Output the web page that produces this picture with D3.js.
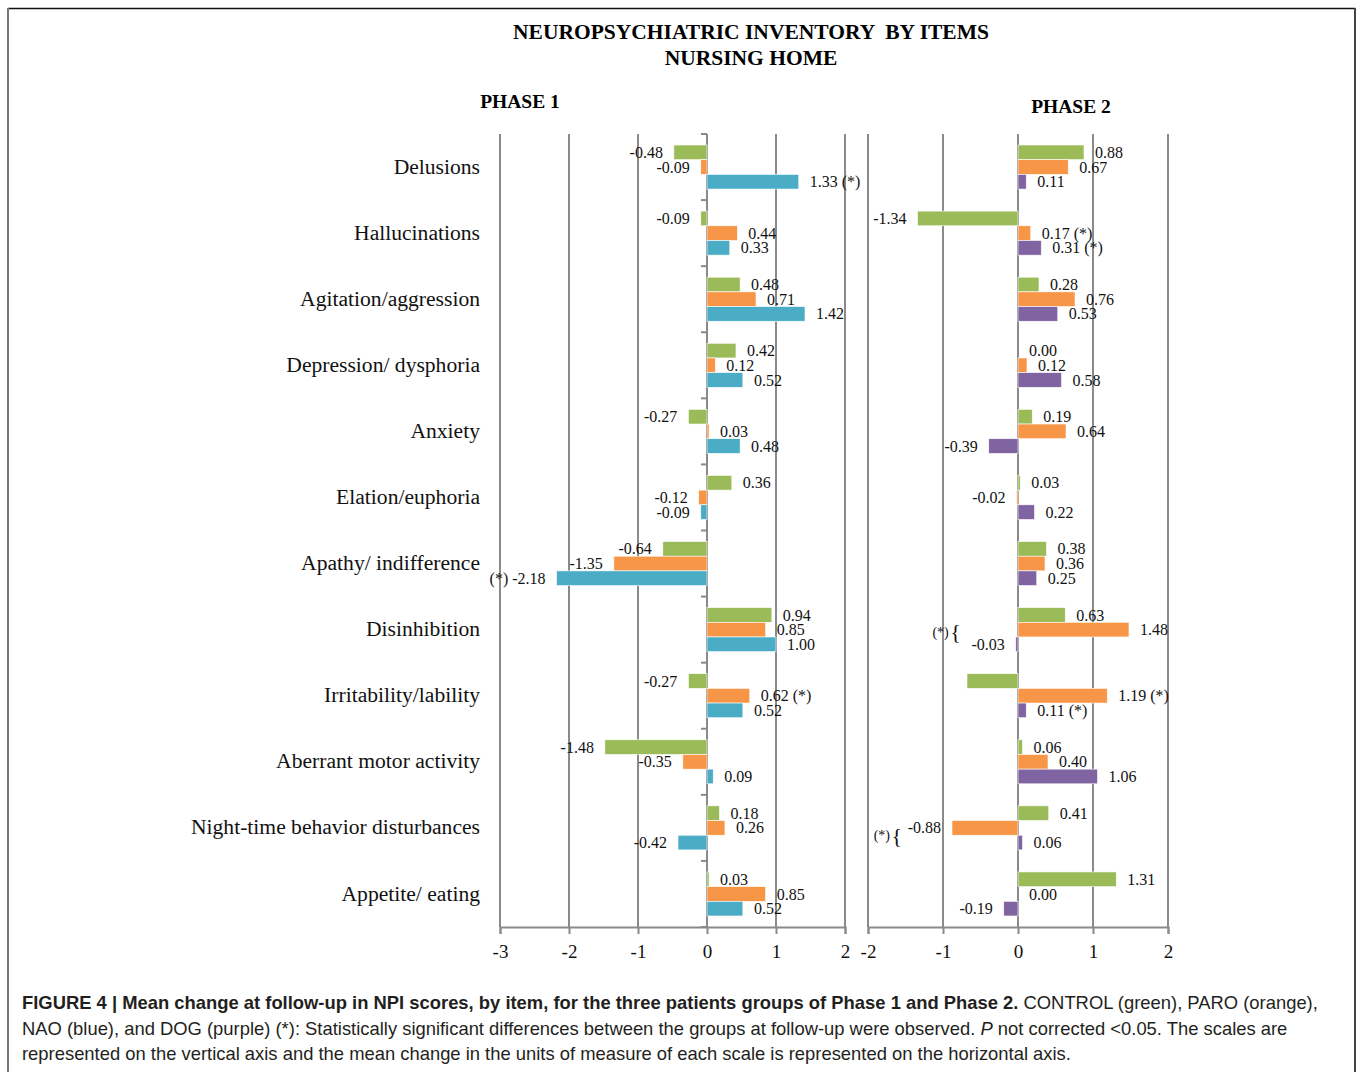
<!DOCTYPE html>
<html>
<head>
<meta charset="utf-8">
<script src="https://cdn.jsdelivr.net/npm/d3@7"></script>
<style>
  html, body { margin: 0; padding: 0; background: #fff; }
  svg { display: block; }
</style>
</head>
<body>
<svg id="chart" width="1358" height="1072"></svg>
<script>
// ---------- DATA ----------
const categories = [
  "Delusions", "Hallucinations", "Agitation/aggression", "Depression/ dysphoria",
  "Anxiety", "Elation/euphoria", "Apathy/ indifference", "Disinhibition",
  "Irritability/lability", "Aberrant motor activity", "Night-time behavior disturbances",
  "Appetite/ eating"
];
// Phase 1: CONTROL (green), PARO (orange), NAO (blue)
const p1Control = [-0.48, -0.09, 0.48, 0.42, -0.27, 0.36, -0.64, 0.94, -0.27, -1.48, 0.18, 0.03];
const p1Paro    = [-0.09, 0.44, 0.71, 0.12, 0.03, -0.12, -1.35, 0.85, 0.62, -0.35, 0.26, 0.85];
const p1Nao     = [1.33, 0.33, 1.42, 0.52, 0.48, -0.09, -2.18, 1.00, 0.52, 0.09, -0.42, 0.52];
// Phase 2: CONTROL (green), PARO (orange), DOG (purple)
const p2Control = [0.88, -1.34, 0.28, 0.00, 0.19, 0.03, 0.38, 0.63, -0.68, 0.06, 0.41, 1.31];
const p2Paro    = [0.67, 0.17, 0.76, 0.12, 0.64, -0.02, 0.36, 1.48, 1.19, 0.40, -0.88, 0.00];
const p2Dog     = [0.11, 0.31, 0.53, 0.58, -0.39, 0.22, 0.25, -0.03, 0.11, 1.06, 0.06, -0.19];
// significance notes: "post" -> "value (*)", "pre" -> "(*) value", "none" -> no label
const p1ControlNote = ["", "", "", "", "", "", "", "", "", "", "", ""];
const p1ParoNote    = ["", "", "", "", "", "", "", "", "post", "", "", ""];
const p1NaoNote     = ["post", "", "", "", "", "", "pre", "", "", "", "", ""];
const p2ControlNote = ["", "", "", "", "", "", "", "", "none", "", "", ""];
const p2ParoNote    = ["", "post", "", "", "", "", "", "", "post", "", "", ""];
const p2DogNote     = ["", "post", "", "", "", "", "", "", "post", "", "", ""];
// bracket annotations in phase 2
const p2Brackets = ["Disinhibition", "Night-time behavior disturbances"];
const p1Ticks = [-3, -2, -1, 0, 1, 2];
const p2Ticks = [-2, -1, 0, 1, 2];
const seriesColors = { control: "#9BBB59", paro: "#F79646", nao: "#4BACC6", dog: "#8064A2" };

// ---------- DRAW ----------
const svg = d3.select("#chart");
const serif = "'Liberation Serif', 'Times New Roman', serif";
const sans = "'Liberation Sans', Arial, sans-serif";

// frame
svg.append("line").attr("x1", 8).attr("x2", 1355.5).attr("y1", 8.5).attr("y2", 8.5)
  .attr("stroke", "#111").attr("stroke-width", 1.5);
svg.append("line").attr("x1", 8).attr("x2", 8).attr("y1", 8).attr("y2", 1072)
  .attr("stroke", "#777").attr("stroke-width", 2);
svg.append("line").attr("x1", 1355).attr("x2", 1355).attr("y1", 8).attr("y2", 1072)
  .attr("stroke", "#444").attr("stroke-width", 2);

// titles
svg.append("text").attr("x", 751).attr("y", 39).attr("text-anchor", "middle")
  .attr("font-family", serif).attr("font-weight", "bold").attr("font-size", 21.5)
  .attr("xml:space", "preserve")
  .text("NEUROPSYCHIATRIC INVENTORY  BY ITEMS");
svg.append("text").attr("x", 751).attr("y", 65).attr("text-anchor", "middle")
  .attr("font-family", serif).attr("font-weight", "bold").attr("font-size", 21.5)
  .text("NURSING HOME");
svg.append("text").attr("x", 520).attr("y", 108).attr("text-anchor", "middle")
  .attr("font-family", serif).attr("font-weight", "bold").attr("font-size", 19.5)
  .text("PHASE 1");
svg.append("text").attr("x", 1071).attr("y", 113).attr("text-anchor", "middle")
  .attr("font-family", serif).attr("font-weight", "bold").attr("font-size", 19.5)
  .text("PHASE 2");

const yTop = 134, yBot = 927;
const y = d3.scaleBand().domain(categories).range([yTop, yBot]).paddingInner(1/3).paddingOuter(1/6);
const step = y.step();
const ySub = d3.scaleBand().domain([0, 1, 2]).range([0, y.bandwidth()]);

const x1 = d3.scaleLinear().domain([-3, 2]).range([500, 845]);
const x2 = d3.scaleLinear().domain([-2, 2]).range([868, 1168]);

const gridColor = "#8a8a8a";

function panel(x, ticks, series, withCatTicks) {
  const g = svg.append("g");
  g.selectAll(".grid").data(ticks).join("line")
    .attr("x1", d => x(d)).attr("x2", d => x(d))
    .attr("y1", yTop).attr("y2", yBot)
    .attr("stroke", gridColor).attr("stroke-width", 2);
  const ax = g.append("g").attr("transform", `translate(0,${yBot})`)
    .call(d3.axisBottom(x).tickValues(ticks).tickSize(7).tickPadding(11)
      .tickFormat(d => d3.format("d")(d).replace("−", "-")));
  ax.select(".domain").attr("stroke", gridColor).attr("stroke-width", 2);
  ax.selectAll(".tick line").attr("stroke", gridColor).attr("stroke-width", 2);
  ax.selectAll(".tick text").attr("font-family", serif).attr("font-size", 19).attr("fill", "#111");
  if (withCatTicks) {
    const bounds = d3.range(categories.length + 1).map(i => yTop + i * step);
    g.selectAll(".ctick").data(bounds).join("line")
      .attr("x1", x(0) - 6).attr("x2", x(0)).attr("y1", d => d).attr("y2", d => d)
      .attr("stroke", gridColor).attr("stroke-width", 2);
  }
  series.forEach((s, si) => {
    const items = s.values.map((v, i) => ({ v, i, cat: categories[i], note: s.notes[i] }));
    g.selectAll(null).data(items).join("rect")
      .attr("x", d => Math.min(x(0), x(d.v)))
      .attr("width", d => Math.abs(x(d.v) - x(0)))
      .attr("y", d => y(d.cat) + ySub(si))
      .attr("height", ySub.bandwidth())
      .attr("fill", s.color)
      .attr("stroke", "#fff").attr("stroke-width", 0.6);
    g.selectAll(null).data(items.filter(d => d.note !== "none")).join("text")
      .attr("x", d => d.v < 0 ? x(d.v) - 11 : x(d.v) + 11)
      .attr("y", d => y(d.cat) + ySub(si) + ySub.bandwidth() / 2)
      .attr("dy", "0.35em")
      .attr("text-anchor", d => d.v < 0 ? "end" : "start")
      .attr("font-family", serif).attr("font-size", 16).attr("fill", "#111")
      .text(d => {
        const t = d3.format(".2f")(d.v).replace("−", "-");
        if (d.note === "post") return t + " (*)";
        if (d.note === "pre") return "(*) " + t;
        return t;
      });
  });
  return g;
}

panel(x1, p1Ticks, [
  { values: p1Control, notes: p1ControlNote, color: seriesColors.control },
  { values: p1Paro, notes: p1ParoNote, color: seriesColors.paro },
  { values: p1Nao, notes: p1NaoNote, color: seriesColors.nao }
], true);

panel(x2, p2Ticks, [
  { values: p2Control, notes: p2ControlNote, color: seriesColors.control },
  { values: p2Paro, notes: p2ParoNote, color: seriesColors.paro },
  { values: p2Dog, notes: p2DogNote, color: seriesColors.dog }
], false);

// category labels
svg.selectAll(".cat").data(categories).join("text")
  .attr("x", 480).attr("y", d => y(d) + y.bandwidth() / 2 - 1).attr("dy", "0.35em")
  .attr("text-anchor", "end").attr("font-family", serif).attr("font-size", 21.6).attr("fill", "#111")
  .text(d => d);

// bracket annotations (phase 2)
const bracketInfo = [
  { cat: p2Brackets[0], xr: x2(-0.03) - 55, dy: 2 },
  { cat: p2Brackets[1], xr: x2(-0.88) - 50, dy: 7 }
];
bracketInfo.forEach(b => {
  const cy = y(b.cat) + y.bandwidth() / 2 + b.dy;
  svg.append("text").attr("x", b.xr).attr("y", cy).attr("dy", "0.35em").attr("text-anchor", "end")
    .attr("font-family", serif).attr("font-size", 22).attr("fill", "#111").text("{");
  svg.append("text").attr("x", b.xr - 12).attr("y", cy).attr("dy", "0.35em").attr("text-anchor", "end")
    .attr("font-family", serif).attr("font-size", 14).attr("fill", "#111").text("(*)");
});

// caption
const cap = svg.append("g").attr("font-family", sans).attr("font-size", 18.4).attr("fill", "#231f20");
const l1 = cap.append("text").attr("x", 22).attr("y", 1009);
l1.append("tspan").attr("font-weight", "bold")
  .text("FIGURE 4 | Mean change at follow-up in NPI scores, by item, for the three patients groups of Phase 1 and Phase 2.");
l1.append("tspan").text(" CONTROL (green), PARO (orange),");
const l2 = cap.append("text").attr("x", 22).attr("y", 1034.5);
l2.append("tspan").text("NAO (blue), and DOG (purple) (*): Statistically significant differences between the groups at follow-up were observed. ");
l2.append("tspan").attr("font-style", "italic").text("P");
l2.append("tspan").text(" not corrected <0.05. The scales are");
cap.append("text").attr("x", 22).attr("y", 1060)
  .text("represented on the vertical axis and the mean change in the units of measure of each scale is represented on the horizontal axis.");
</script>
</body>
</html>
